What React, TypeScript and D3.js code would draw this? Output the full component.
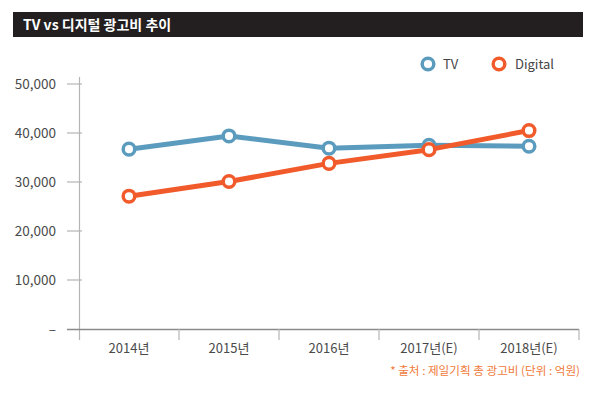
import React from "react";
import * as d3 from "d3";

const categories = ["2014년", "2015년", "2016년", "2017년(E)", "2018년(E)"];
const tvValues = [36700, 39400, 36900, 37500, 37300];
const digitalValues = [27100, 30100, 33800, 36600, 40500];
const yTicks = [0, 10000, 20000, 30000, 40000, 50000];
const title = "TV vs 디지털 광고비 추이";
const footnote = "* 출처 : 제일기획 총 광고비 (단위 : 억원)";

const TV_COLOR = "#5b9cbe";
const DIG_COLOR = "#f15a2b";
const FONT = "'Noto Sans CJK KR', 'Noto Sans', sans-serif";

export default function App() {
  const W = 600, H = 393;
  const x = d3.scaleBand<string>().domain(categories).range([79, 579]);
  const y = d3.scaleLinear().domain([0, 50000]).range([329, 84]);
  const cx = (c: string) => (x(c) as number) + x.bandwidth() / 2;
  const line = d3.line<number>().x((_, i) => cx(categories[i])).y((d) => y(d));
  const fmt = d3.format(",");

  const series = [
    { vals: tvValues, color: TV_COLOR },
    { vals: digitalValues, color: DIG_COLOR },
  ];

  return (
    <svg width={W} height={H} style={{ position: "absolute", left: 0, top: 0, background: "#fff" }} fontFamily={FONT}>
      <rect x={13} y={12} width={570} height={25} fill="#231f20" />
      <text x={23} y={30} fill="#fff" fontSize={14} fontWeight="bold">{title}</text>

      {/* legend */}
      <circle cx={428} cy={64} r={5.8} fill="#fff" stroke={TV_COLOR} strokeWidth={3.5} />
      <text x={443} y={69} fontSize={13} fill="#444">TV</text>
      <circle cx={499} cy={64} r={5.8} fill="#fff" stroke={DIG_COLOR} strokeWidth={3.5} />
      <text x={515} y={69} fontSize={13} fill="#444">Digital</text>

      {/* y axis */}
      <line x1={79.5} x2={79.5} y1={77} y2={340} stroke="#b5b5b5" strokeWidth={1.2} />
      {yTicks.map((t) => (
        <g key={t}>
          {t > 0 && <line x1={67} x2={82} y1={y(t)} y2={y(t)} stroke="#b5b5b5" strokeWidth={1.2} />}
          <text x={56} y={y(t) + 4.5} textAnchor="end" fontSize={13.5} fill="#4a4a4a">
            {t === 0 ? "–" : fmt(t)}
          </text>
        </g>
      ))}

      {/* x axis */}
      <line x1={67} x2={579} y1={329.5} y2={329.5} stroke="#8a8a8a" strokeWidth={1.4} />
      {categories.map((c, i) => (
        <g key={c}>
          {i > 0 && (
            <line x1={x(c) as number} x2={x(c) as number} y1={329} y2={340} stroke="#b5b5b5" strokeWidth={1.2} />
          )}
          <text x={cx(c)} y={353} textAnchor="middle" fontSize={13} fill="#4a4a4a">{c}</text>
        </g>
      ))}
      <line x1={579} x2={579} y1={329} y2={340} stroke="#b5b5b5" strokeWidth={1.2} />

      {series.map((s, si) => (
        <g key={si}>
          <path d={line(s.vals) || ""} fill="none" stroke={s.color} strokeWidth={5} strokeLinejoin="round" />
          {s.vals.map((v, i) => (
            <circle key={i} cx={cx(categories[i])} cy={y(v)} r={5.8} fill="#fff" stroke={s.color} strokeWidth={3.5} />
          ))}
        </g>
      ))}

      <text x={580} y={375} textAnchor="end" fontSize={11.6} fill="#f07a3a">{footnote}</text>
    </svg>
  );
}
